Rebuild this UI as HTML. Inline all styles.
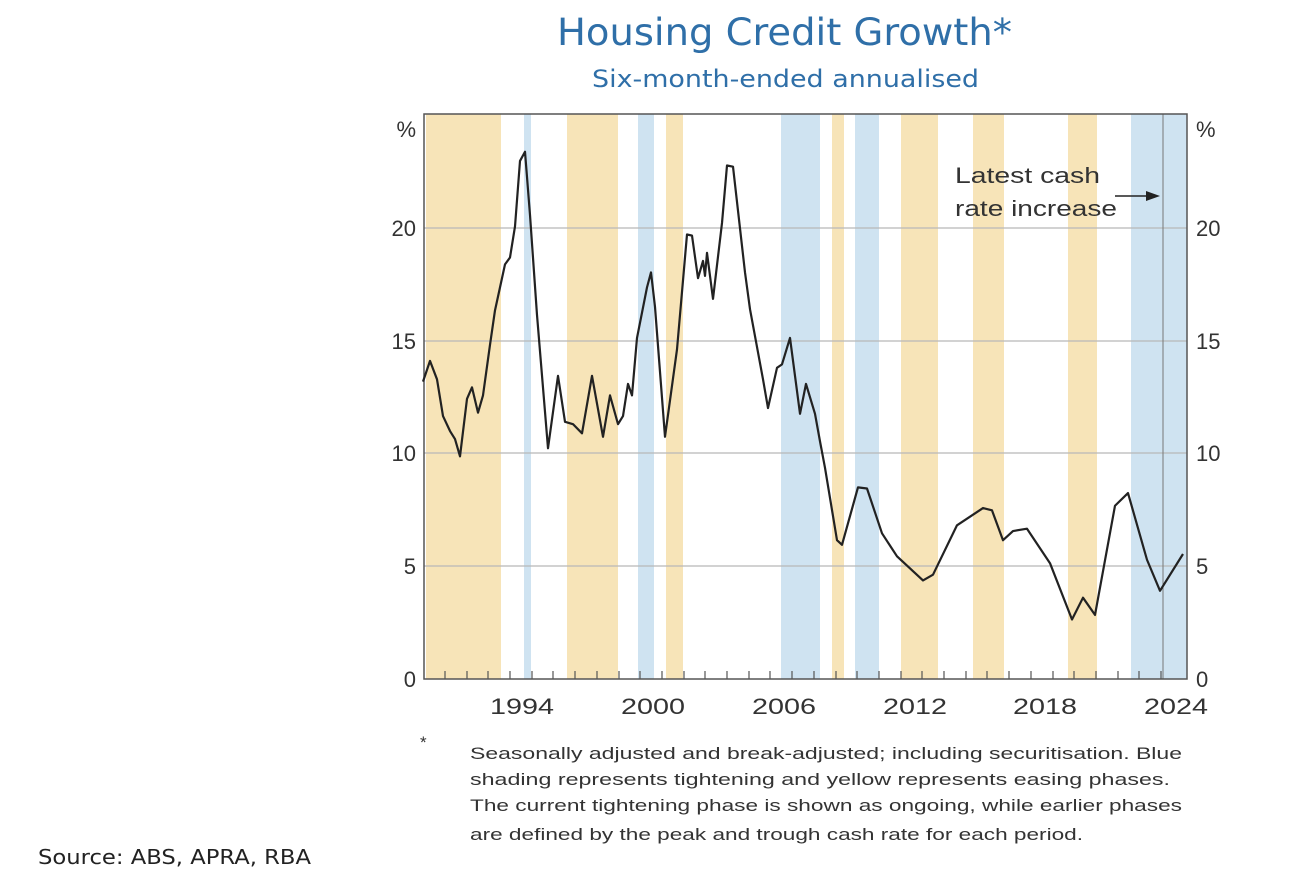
<!DOCTYPE html>
<html><head><meta charset="utf-8"><style>
body{margin:0;background:#fff;width:1304px;height:886px;overflow:hidden;font-family:"Liberation Sans",sans-serif}
</style></head><body>
<svg width="1304" height="886" xmlns="http://www.w3.org/2000/svg">
<text x="557" y="45" textLength="455" lengthAdjust="spacingAndGlyphs" font-size="37" fill="#2f6fa8" font-family="DejaVu Sans, sans-serif">Housing Credit Growth*</text>
<text x="592" y="87" textLength="387" lengthAdjust="spacingAndGlyphs" font-size="24" fill="#2f6fa8" font-family="DejaVu Sans, sans-serif">Six-month-ended annualised</text>
<g fill="#f7e4b8">
<rect x="426" y="114" width="75" height="565"/><rect x="567" y="114" width="51" height="565"/><rect x="666" y="114" width="17" height="565"/>
<rect x="832" y="114" width="12" height="565"/><rect x="901" y="114" width="37" height="565"/><rect x="973" y="114" width="31" height="565"/><rect x="1068" y="114" width="29" height="565"/>
</g>
<g fill="#cfe3f1">
<rect x="524" y="114" width="7" height="565"/><rect x="638" y="114" width="16" height="565"/><rect x="781" y="114" width="39" height="565"/>
<rect x="855" y="114" width="24" height="565"/><rect x="1131" y="114" width="56" height="565"/>
</g>
<g stroke="#b8b8b8" stroke-width="1.2">
<line x1="424" x2="1187" y1="228" y2="228"/><line x1="424" x2="1187" y1="341" y2="341"/><line x1="424" x2="1187" y1="453" y2="453"/><line x1="424" x2="1187" y1="566" y2="566"/>
</g>
<line x1="1163" x2="1163" y1="114" y2="679" stroke="#777" stroke-width="1"/>
<rect x="424" y="114" width="763" height="565" fill="none" stroke="#555" stroke-width="1.5"/>
<path transform="translate(0,100) scale(1,1.1494) translate(0,-100)" vector-effect="non-scaling-stroke" fill="none" stroke="#222" stroke-width="2.2" stroke-linejoin="round" d="M423,345 L430,327 L437,343 L443,375 L450,388 L455,395 L460,410 L467,360 L472,350 L478,372 L483,357 L490,313 L495,283 L505,243 L510,237 L515,210 L520,153 L525,145 L530,200 L537,287 L548,403 L558,340 L565,380 L573,382 L582,390 L592,340 L603,393 L610,357 L618,382 L623,375 L628,347 L632,357 L637,307 L647,263 L651,250 L655,280 L665,393 L677,317 L687,217 L692,218 L698,255 L703,240 L705,253 L707,233 L713,273 L722,207 L727,157 L733,158 L745,250 L750,282 L763,343 L768,368 L777,333 L782,330 L790,307 L800,373 L806,347 L815,373 L820,397 L825,420 L837,483 L842,487 L858,437 L867,438 L882,477 L897,497 L923,518 L933,513 L957,470 L983,455 L992,457 L1003,483 L1013,475 L1027,473 L1050,503 L1072,552 L1083,533 L1095,548 L1115,453 L1128,442 L1147,500 L1160,527 L1183,495"/>
<g font-size="22" fill="#333">
<text x="416" y="137" text-anchor="end">%</text><text x="416" y="236" text-anchor="end">20</text><text x="416" y="349" text-anchor="end">15</text><text x="416" y="461" text-anchor="end">10</text><text x="416" y="574" text-anchor="end">5</text><text x="416" y="687" text-anchor="end">0</text>
<text x="1196" y="137">%</text><text x="1196" y="236">20</text><text x="1196" y="349">15</text><text x="1196" y="461">10</text><text x="1196" y="574">5</text><text x="1196" y="687">0</text>
</g>
<g font-size="22" fill="#333" lengthAdjust="spacingAndGlyphs">
<text x="490" y="714" textLength="64" lengthAdjust="spacingAndGlyphs">1994</text><text x="621" y="714" textLength="64" lengthAdjust="spacingAndGlyphs">2000</text><text x="752" y="714" textLength="64" lengthAdjust="spacingAndGlyphs">2006</text><text x="883" y="714" textLength="64" lengthAdjust="spacingAndGlyphs">2012</text><text x="1013" y="714" textLength="64" lengthAdjust="spacingAndGlyphs">2018</text><text x="1144" y="714" textLength="64" lengthAdjust="spacingAndGlyphs">2024</text>
<text x="955" y="183" textLength="145" lengthAdjust="spacingAndGlyphs">Latest cash</text><text x="955" y="216" textLength="162" lengthAdjust="spacingAndGlyphs">rate increase</text>
</g>
<line x1="1115" y1="196" x2="1150" y2="196" stroke="#222" stroke-width="1.5"/><polygon points="1160,196 1146,191 1146,201" fill="#222"/>
<g font-size="17" fill="#333">
<text x="420" y="748">*</text>
<text x="470" y="759" textLength="712" lengthAdjust="spacingAndGlyphs">Seasonally adjusted and break-adjusted; including securitisation. Blue</text>
<text x="470" y="785" textLength="700" lengthAdjust="spacingAndGlyphs">shading represents tightening and yellow represents easing phases.</text>
<text x="470" y="811" textLength="712" lengthAdjust="spacingAndGlyphs">The current tightening phase is shown as ongoing, while earlier phases</text>
<text x="470" y="840" textLength="613" lengthAdjust="spacingAndGlyphs">are defined by the peak and trough cash rate for each period.</text>
</g>
<text x="38" y="864" font-size="20" textLength="273" lengthAdjust="spacingAndGlyphs" fill="#222" font-family="DejaVu Sans, sans-serif">Source: ABS, APRA, RBA</text>
<path stroke="#555" stroke-width="1.2" d="M445,679v-8M467,679v-8M488,679v-8M510,679v-8M532,679v-8M553,679v-8M575,679v-8M597,679v-8M619,679v-8M640,679v-8M662,679v-8M684,679v-8M705,679v-8M727,679v-8M749,679v-8M770,679v-8M792,679v-8M814,679v-8M836,679v-8M857,679v-8M879,679v-8M901,679v-8M922,679v-8M944,679v-8M966,679v-8M987,679v-8M1009,679v-8M1031,679v-8M1053,679v-8M1074,679v-8M1096,679v-8M1118,679v-8M1139,679v-8M1161,679v-8"/>
</svg>
</body></html>
